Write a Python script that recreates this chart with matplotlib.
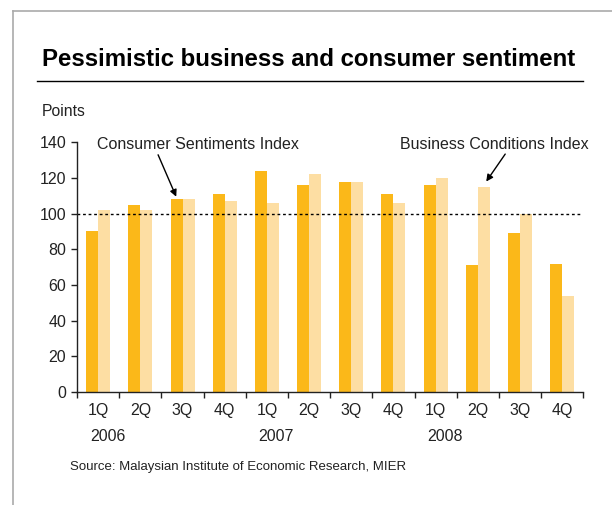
import numpy as np
import matplotlib
matplotlib.use('Agg')
import matplotlib.pyplot as plt
from matplotlib.lines import Line2D

plt.rcParams['font.family'] = ['Liberation Sans', 'DejaVu Sans']

# quarterly sentiment readings, 2006-2008
quarters = ['1Q', '2Q', '3Q', '4Q'] * 3
years = ['2006', '2007', '2008']
consumer = [90, 105, 108, 111, 124, 116, 118, 111, 116, 71, 89, 72]
business = [102, 102, 108, 107, 106, 122, 118, 106, 120, 115, 100, 54]

DARK = '#FBB819'
LIGHT = '#FDDEA3'
TXT = '#222222'
FS = 11.5

fig = plt.figure(figsize=(6.12, 5.05), dpi=100)
ax = fig.add_axes([0.126, 0.2238, 0.827, 0.4944])

x = np.arange(len(quarters))
w = 0.285
ax.bar(x - w / 2, consumer, w, color=DARK, linewidth=0)
ax.bar(x + w / 2, business, w, color=LIGHT, linewidth=0)

ax.axhline(100, color='black', lw=1, ls=(0, (2, 2)))

ax.set_xlim(-0.5, len(quarters) - 0.5)
ax.set_ylim(0, 140)
ax.set_yticks(range(0, 141, 20))
ax.set_xticks(np.arange(-0.5, len(quarters), 1.0))
ax.set_xticklabels([])
ax.set_xticks(x, minor=True)
ax.set_xticklabels(quarters, minor=True)
ax.tick_params(axis='x', which='major', direction='out', length=4, width=1, color=TXT)
ax.tick_params(axis='x', which='minor', length=0, pad=8, labelsize=FS, labelcolor=TXT)
ax.tick_params(axis='y', direction='out', length=4, width=1, color=TXT,
               labelsize=FS, labelcolor=TXT, pad=4)
for s in ['top', 'right']:
    ax.spines[s].set_visible(False)
for s in ['left', 'bottom']:
    ax.spines[s].set_color(TXT)
    ax.spines[s].set_linewidth(1)

# year labels under the first quarter of each year
for i, yr in enumerate(years):
    ax.text(i * 4 + 0.22, -0.18, yr, transform=ax.get_xaxis_transform(),
            ha='center', va='center', fontsize=FS, color=TXT)

# series labels with pointer arrows
ax.text(2.37, 139, 'Consumer Sentiments Index', ha='center', va='center',
        fontsize=FS, color=TXT)
ax.text(9.39, 139, 'Business Conditions Index', ha='center', va='center',
        fontsize=FS, color=TXT)
arrow = dict(arrowstyle='-|>', color='black', lw=1, mutation_scale=10, shrinkA=0, shrinkB=0)
ax.annotate('', xy=(1.85, 109.5), xytext=(1.42, 133), arrowprops=arrow)
ax.annotate('', xy=(9.2, 118), xytext=(9.65, 133.4), arrowprops=arrow)

fig.text(42 / 612, 1 - 60 / 505, 'Pessimistic business and consumer sentiment',
         fontsize=17.3, fontweight='bold', va='center', ha='left', color='black')
fig.add_artist(Line2D([37 / 612, 583 / 612], [1 - 81 / 505] * 2, color='black', lw=1))
fig.text(42 / 612, 1 - 112 / 505, 'Points', fontsize=11.3, va='center', ha='left', color=TXT)
fig.text(70 / 612, 1 - 467 / 505, 'Source: Malaysian Institute of Economic Research, MIER',
         fontsize=9.5, va='center', ha='left', color=TXT)

# frame lines along top and left edge
fig.add_artist(Line2D([13 / 612, 1], [1 - 11 / 505] * 2, color='#aaaaaa', lw=1.2))
fig.add_artist(Line2D([13 / 612] * 2, [1 - 11 / 505, 0], color='#aaaaaa', lw=1.2))

fig.savefig('out.png', dpi=100)
